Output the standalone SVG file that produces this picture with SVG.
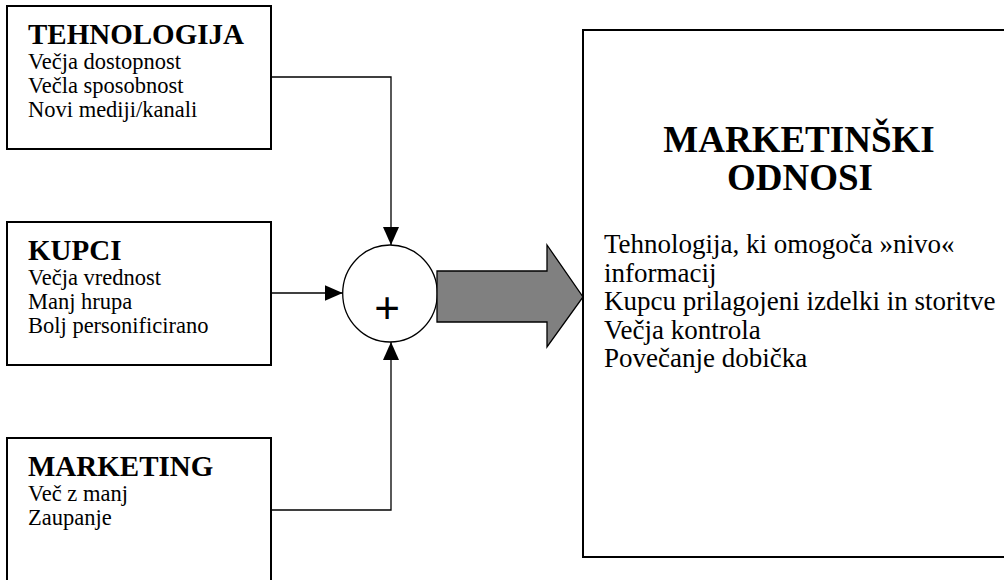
<svg xmlns="http://www.w3.org/2000/svg" width="1004" height="580" viewBox="0 0 1004 580">
<style>
.box{fill:#fff;stroke:#000;stroke-width:2}
.ttl{font-family:"Liberation Serif","Times New Roman",serif;font-weight:bold;font-size:29px;fill:#000}
.txt{font-family:"Liberation Serif","Times New Roman",serif;font-size:22.5px;fill:#000}
.bigttl{font-family:"Liberation Serif","Times New Roman",serif;font-weight:bold;font-size:37px;fill:#000;text-anchor:middle}
.bigtxt{font-family:"Liberation Serif","Times New Roman",serif;font-size:27px;fill:#000}
.con{fill:none;stroke:#000;stroke-width:1.3}
</style>
<defs>
<marker id="ah" viewBox="0 0 18 16" refX="18" refY="8" markerWidth="18" markerHeight="16" markerUnits="userSpaceOnUse" orient="auto">
<path d="M0,0 L18,8 L0,16 z" fill="#000"/>
</marker>
</defs>
<g id="tehnologija">
<rect class="box" x="7" y="6" width="264" height="143"/>
<text class="ttl" x="28" y="44">TEHNOLOGIJA</text>
<text class="txt" x="28" y="69">Večja dostopnost</text>
<text class="txt" x="28" y="93">Večla sposobnost</text>
<text class="txt" x="28" y="117">Novi mediji/kanali</text>
</g>
<g id="kupci">
<rect class="box" x="7" y="222" width="264" height="143"/>
<text class="ttl" x="28" y="260">KUPCI</text>
<text class="txt" x="28" y="285">Večja vrednost</text>
<text class="txt" x="28" y="309">Manj hrupa</text>
<text class="txt" x="28" y="333">Bolj personificirano</text>
</g>
<g id="marketing">
<rect class="box" x="7" y="438" width="264" height="160"/>
<text class="ttl" x="28" y="476">MARKETING</text>
<text class="txt" x="28" y="501">Več z manj</text>
<text class="txt" x="28" y="525">Zaupanje</text>
</g>
<g id="sum">
<ellipse cx="390" cy="293.5" rx="47.3" ry="48.5" fill="#fff" stroke="#000" stroke-width="1.3"/>
<text x="387" y="323" font-family="Liberation Sans, Arial, sans-serif" font-size="44" text-anchor="middle" fill="#000">+</text>
</g>
<g id="big-arrow">
<polygon points="437,271 547,271 547,245 583,297 547,347 547,322 437,322" fill="#808080" stroke="#000" stroke-width="1.3"/>
</g>
<g id="marketinski-odnosi">
<rect class="box" x="583" y="30" width="440" height="527"/>
<text class="bigttl" x="799" y="152">MARKETINŠKI</text>
<text class="bigttl" x="800" y="190">ODNOSI</text>
<text class="bigtxt" x="604" y="253">Tehnologija, ki omogoča »nivo«</text>
<text class="bigtxt" x="604" y="281.5">informacij</text>
<text class="bigtxt" x="604" y="310">Kupcu prilagojeni izdelki in storitve</text>
<text class="bigtxt" x="604" y="338.5">Večja kontrola</text>
<text class="bigtxt" x="604" y="367">Povečanje dobička</text>
</g>
<g id="connectors">
<path class="con" d="M271,77 H391 V245" marker-end="url(#ah)"/>
<path class="con" d="M271,293 H342.7" marker-end="url(#ah)"/>
<path class="con" d="M271,510 H391 V342" marker-end="url(#ah)"/>
</g>
</svg>
